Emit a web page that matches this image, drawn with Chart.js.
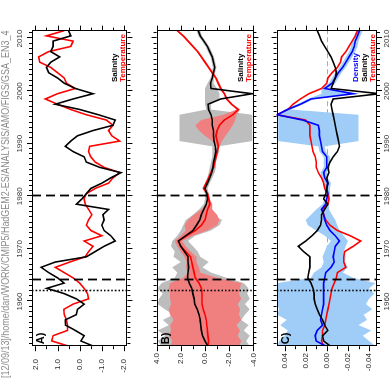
<!DOCTYPE html>
<html><head><meta charset="utf-8">
<script src="https://cdn.jsdelivr.net/npm/chart.js@4"></script>
<style>
html,body{margin:0;padding:0;background:#fff;overflow:hidden;width:391px;height:380px;}
#rot{position:absolute;left:0;top:0;width:380px;height:391px;transform-origin:0 0;transform:translate(0px,380px) rotate(-90deg);background:#fff;}
#rot canvas{position:absolute;left:0;}
</style></head><body>
<div id="rot">
<canvas id="cA" width="380" height="145" style="top:0;width:380px;height:145px"></canvas>
<canvas id="cB" width="380" height="120" style="top:145px;width:380px;height:120px"></canvas>
<canvas id="cC" width="380" height="126" style="top:265px;width:380px;height:126px"></canvas>
</div>
<script>
// ---------- DATA ----------
const pathTitle = "[12/09/13]/home/dan/WORK/CMIP5/HadGEM2-ES/ANALYSIS/AMO/FIGS/GSA_EN3_4";
const years = [1951.5,1952.5,1953.5,1954.5,1955.5,1956.5,1957.5,1958.5,1959.5,1960.5,
1961.5,1962.5,1963.5,1964.5,1965.5,1966.5,1967.5,1968.5,1969.5,1970.5,
1971.5,1972.5,1973.5,1974.5,1975.5,1976.5,1977.5,1978.5,1979.5,1980.5,
1981.5,1982.5,1983.5,1984.5,1985.5,1986.5,1987.5,1988.5,1989.5,1990.5,
1991.5,1992.5,1993.5,1994.5,1995.5,1996.5,1997.5,1998.5,1999.5,2000.5,
2001.5,2002.5,2003.5,2004.5,2005.5,2006.5,2007.5,2008.5,2009.5,2010.5,2011.5];
const yearTicks = [1960,1970,1980,1990,2000,2010];
const eventYears = [1962,1964,1980];

// Panel A: normalised indices
const aSalinity = [-0.62,-0.05,-0.2,0.2,0.64,0.65,0.15,0.1,-0.2,0.15,
0.7,1.48,0.7,1.0,1.4,1.74,1.1,-0.3,-0.7,-1.1,
-1.6,-1.4,-1.1,-1.0,-1.1,-1.05,-1.3,0.15,-0.1,-0.3,
-0.5,-1.0,-1.4,-1.86,-0.9,-0.3,-0.2,0.3,0.65,0.4,
0.1,-0.6,-1.5,-1.6,-0.85,0.0,1.1,0.3,-0.6,0.2,
0.7,1.0,1.4,1.5,1.3,0.9,1.3,1.2,1.2,0.4,0.5];
const aTemperature = [0.49,1.26,1.2,0.55,0.55,0.6,0.7,0.72,0.3,-0.4,
-0.35,-0.2,0.0,0.3,0.7,1.1,0.45,-0.25,-0.4,-0.6,
-0.2,-1.0,-0.5,-0.3,-0.4,-0.55,-0.4,-0.25,-0.2,-0.3,
-0.7,-1.3,-1.5,-1.8,-1.1,-0.7,-0.5,-0.4,-0.45,-1.8,
-1.45,-1.3,-1.5,-1.2,-0.3,0.4,1.0,1.55,1.0,0.2,
0.6,0.7,1.0,1.3,1.8,1.85,1.4,0.4,0.3,1.5,0.7];
const aTicks = [2,1,0,-1,-2];

// Panel B
const bSalinity = [-0.24,0.0,0.2,0.3,0.35,0.4,0.5,0.65,0.85,0.9,
1.0,1.1,1.3,1.45,1.4,1.35,1.4,1.4,1.7,2.0,
2.2,1.6,1.0,0.7,0.44,0.3,0.1,-0.1,-0.2,-0.15,
0.0,-0.2,-0.4,-0.55,-0.65,-0.7,-0.8,-0.9,-0.85,-0.75,
-0.7,-0.7,-0.6,-0.6,-0.5,-0.3,-0.25,-1.3,-3.9,-0.5,
-0.45,-0.6,-0.7,-0.8,-0.7,-0.6,-0.4,-0.2,0.1,0.4,0.56];
const bTemperature = [-0.24,-0.3,-0.24,-0.2,-0.15,-0.1,0.0,0.15,0.25,0.25,
0.25,0.3,0.5,0.8,0.9,1.0,1.1,1.2,1.6,2.0,
2.2,1.5,0.8,0.3,0.0,-0.1,-0.2,-0.4,-0.3,-0.2,
0.1,-0.1,-0.3,-0.5,-0.7,-0.8,-0.9,-1.0,-1.1,-1.0,
-0.9,-1.0,-1.2,-1.6,-2.3,-2.75,-2.2,-1.8,-1.6,-1.3,
-1.1,-0.9,-0.6,-0.3,0.0,0.3,0.6,1.0,1.4,1.8,2.3];
const bSalHi = [3.6,3.9,3.3,3.9,3.0,3.5,2.6,3.3,3.9,3.8,
3.5,3.9,3.6,2.5,2.3,2.7,2.0,2.6,2.5,2.8,
2.7,2.3,2.0,1.8,1.6,1.0,0.5,0.1,0.0,0.0,
0.2,0.0,-0.2,-0.3,-0.4,-0.5,-0.6,-0.6,-0.6,2.1,
2.1,2.1,2.1,2.1,2.1,-0.1,0.0,0.0,0.0,0.0,
-0.2,-0.45,-0.55,-0.65,-0.55,-0.45,-0.25,-0.05,0.25,0.55,0.7];
const bSalLo = [-3.7,-3.4,-3.7,-3.2,-3.6,-3.0,-3.3,-3.7,-3.3,-3.7,
-3.5,-3.6,-3.2,-1.8,-0.5,0.2,-0.3,0.4,0.6,1.0,
1.4,0.8,-0.5,-1.2,-1.4,-0.6,-0.3,-0.4,-0.4,-0.3,
-0.2,-0.4,-0.6,-0.8,-0.9,-0.9,-1.0,-1.2,-1.1,-3.9,
-3.9,-3.9,-3.9,-3.9,-3.9,-0.5,-0.5,-1.2,-1.2,-1.0,
-0.7,-0.75,-0.85,-0.95,-0.85,-0.75,-0.55,-0.35,-0.05,0.25,0.4];
const bTempHi = [2.9,2.7,3.0,2.8,2.9,2.6,2.9,3.0,2.8,2.9,
2.9,3.0,2.9,1.8,1.4,1.6,1.5,1.7,2.0,2.3,
2.5,2.0,1.6,1.7,1.4,0.9,0.3,-0.2,-0.2,-0.1,
0.2,0.0,-0.2,-0.4,-0.6,-0.7,-0.8,-0.9,-1.0,-0.6,
0.0,0.5,0.8,0.3,-1.5,-2.6,-2.1,-1.7,-1.5,-1.2,
-1.0,-0.8,-0.5,-0.2,0.1,0.4,0.7,1.1,1.5,1.9,2.4];
const bTempLo = [-2.8,-3.0,-2.7,-2.9,-2.6,-3.0,-2.8,-2.9,-2.7,-3.0,
-2.8,-2.9,-3.0,-1.0,0.4,0.5,0.7,0.7,1.2,1.6,
1.9,1.0,-0.2,-1.0,-1.2,-1.0,-0.6,-0.6,-0.4,-0.3,
0.0,-0.2,-0.4,-0.6,-0.8,-0.9,-1.0,-1.1,-1.2,-1.4,
-1.7,-2.0,-2.3,-2.5,-2.6,-2.9,-2.3,-1.9,-1.7,-1.4,
-1.2,-1.0,-0.7,-0.4,-0.1,0.2,0.5,0.9,1.3,1.7,2.2];
const bTicks = [4,2,0,-2,-4];

// Panel C
const cDensity = [0.001,0.01,0.011,0.009,0.004,0.006,0.005,0.004,0.003,0.003,
0.003,0.003,0.003,0.002,0.001,-0.004,-0.007,-0.006,-0.007,-0.008,
-0.012,-0.008,-0.003,0.0,0.002,0.003,0.005,0.001,0.0,-0.001,
0.0,-0.001,0.002,0.003,0.0,0.0,0.0,0.004,0.005,0.006,
0.007,0.007,0.008,0.023,0.047,0.037,0.025,0.015,-0.025,0.002,
-0.005,-0.008,-0.011,-0.015,-0.018,-0.021,-0.024,-0.026,-0.027,-0.029,-0.031];
const cSalinity = [-0.0035,0.003,0.004,-0.001,0.002,0.004,0.007,0.009,0.011,0.012,
0.012,0.013,0.015,0.018,0.017,0.016,0.016,0.016,0.022,0.027,
0.02,0.014,0.009,0.006,0.005,0.005,0.002,-0.001,0.003,0.001,
0.0,-0.001,0.0,-0.002,-0.001,-0.003,-0.006,-0.01,-0.012,-0.011,
-0.01,-0.009,-0.008,-0.007,-0.006,-0.005,-0.004,-0.006,-0.05,-0.004,
-0.006,-0.008,-0.009,-0.008,-0.006,-0.004,-0.001,0.002,0.005,0.007,0.009];
const cTemperature = [0.003,0.005,0.004,0.004,0.002,0.001,0.0,-0.001,-0.002,-0.003,
-0.004,-0.005,-0.007,-0.009,-0.01,-0.018,-0.016,-0.016,-0.017,-0.025,
-0.032,-0.022,-0.01,-0.003,0.001,0.003,0.004,-0.001,-0.002,-0.001,
0.002,0.003,0.005,0.008,0.01,0.01,0.011,0.013,0.014,0.015,
0.016,0.016,0.016,0.02,0.047,0.037,0.032,0.025,0.017,0.005,
0.0,-0.001,-0.005,-0.01,-0.013,-0.014,-0.018,-0.021,-0.024,-0.027,-0.029];
const cDenHi = [0.047,0.045,0.040,0.037,0.044,0.038,0.047,0.045,0.047,0.046,
0.047,0.047,0.047,0.015,0.012,0.005,0.003,0.004,0.002,0.0,
-0.004,0.002,0.010,0.018,0.020,0.015,0.010,0.004,0.002,0.001,
0.003,0.002,0.005,0.006,0.003,0.003,0.003,0.007,0.008,0.046,
0.046,0.046,0.046,0.046,0.046,0.040,0.028,0.018,0.005,0.005,
-0.002,-0.005,-0.008,-0.012,-0.015,-0.018,-0.021,-0.023,-0.024,-0.026,-0.028];
const cDenLo = [-0.046,-0.040,-0.034,-0.042,-0.030,-0.038,-0.035,-0.043,-0.037,-0.040,
-0.045,-0.040,-0.046,-0.025,-0.015,-0.020,-0.017,-0.018,-0.016,-0.018,
-0.020,-0.016,-0.012,-0.010,-0.008,-0.005,-0.002,-0.002,-0.003,-0.003,
-0.003,-0.004,-0.001,0.0,-0.003,-0.003,-0.003,0.001,0.002,-0.030,
-0.030,-0.030,-0.030,-0.030,-0.030,0.034,0.022,0.012,-0.030,-0.002,
-0.008,-0.011,-0.014,-0.018,-0.021,-0.024,-0.027,-0.029,-0.030,-0.032,-0.034];
const cTicks = [0.04,0.02,0,-0.02,-0.04];

// ---------- RENDERING ----------
Chart.defaults.font.family = "'Liberation Sans', Arial, Helvetica, sans-serif";
const pts = arr => years.map((yr, i) => ({x: yr, y: arr[i]}));
const RED = '#ff0000', BLUE = '#0000ff', BLACK = '#000000';
const GREY = '#bdbdbd', PINK = '#f08080', LBLUE = '#9fcdf7';

function line(label, arr, color, order) {
  return {label, data: pts(arr), borderColor: color, borderWidth: 1.6, pointRadius: 0, fill: false, order, tension: 0};
}
function band(arr, color, order, fillTo) {
  return {data: pts(arr), borderWidth: 0, borderColor: 'rgba(0,0,0,0)', backgroundColor: color,
          pointRadius: 0, fill: fillTo === undefined ? false : fillTo, order, tension: 0};
}

const deco = {
  id: 'deco',
  beforeDatasetsDraw(chart, args, o) {
    if (!o.zeroLine) return;
    const {ctx, chartArea: a, scales: {y}} = chart;
    const py = Math.round(y.getPixelForValue(0)) + 0.5;
    ctx.save(); ctx.strokeStyle = '#aaaaaa'; ctx.lineWidth = 1; ctx.setLineDash([5, 3]);
    ctx.beginPath(); ctx.moveTo(a.left, py); ctx.lineTo(a.right, py); ctx.stroke(); ctx.restore();
  },
  afterDatasetsDraw(chart, args, o) {
    const {ctx, chartArea: a, scales: {x, y}} = chart;
    ctx.save();
    ctx.strokeStyle = '#000';
    eventYears.forEach((yr, k) => {
      const px = Math.round(x.getPixelForValue(yr)) + 0.5;
      if (k === 0) { ctx.lineWidth = 1.6; ctx.setLineDash([1.6, 2]); }
      else { ctx.lineWidth = 1.8; ctx.setLineDash([9, 5]); }
      ctx.beginPath(); ctx.moveTo(px, a.top); ctx.lineTo(px, a.bottom); ctx.stroke();
    });
    ctx.setLineDash([]);
    ctx.lineWidth = 1;
    ctx.strokeRect(Math.round(a.left) + 0.5, Math.round(a.top) + 0.5, Math.round(a.width) - 1, Math.round(a.height) - 1);
    ctx.beginPath();
    for (let yr = 1952; yr <= 2011; yr++) {
      const px = Math.round(x.getPixelForValue(yr)) + 0.5;
      const len = yr % 10 === 0 ? 5 : 3;
      ctx.moveTo(px, a.top); ctx.lineTo(px, a.top - len);
      ctx.moveTo(px, a.bottom); ctx.lineTo(px, a.bottom + len);
    }
    const n = Math.round((y.max - y.min) / o.minorStep) + 2;
    const start = Math.ceil(y.min / o.minorStep) * o.minorStep;
    for (let k = 0; k < n; k++) {
      const v = start + k * o.minorStep;
      if (v > y.max + 1e-9) break;
      const py = Math.round(y.getPixelForValue(v)) + 0.5;
      const major = Math.abs(v / o.majorStep - Math.round(v / o.majorStep)) < 1e-6;
      const len = major ? 5 : 3;
      ctx.moveTo(a.left, py); ctx.lineTo(a.left - len, py);
      ctx.moveTo(a.right, py); ctx.lineTo(a.right + len, py);
    }
    ctx.stroke();
    ctx.fillStyle = '#000';
    ctx.font = "bold 11px 'Liberation Sans', Arial, sans-serif";
    ctx.textBaseline = 'alphabetic';
    ctx.fillText(o.letter, a.left + 2, a.top + 12);
    ctx.font = "bold 8px 'Liberation Sans', Arial, sans-serif";
    o.legend.forEach((item, k) => {
      ctx.fillStyle = item.color;
      ctx.fillText(item.text, 298, a.bottom - 2 - (o.legend.length - 1 - k) * 8.5);
    });
    ctx.restore();
  }
};

const tickFont = {size: 8};
function yScale(min, max, ticksArr, digits, pad) {
  return {
    type: 'linear', min, max,
    afterBuildTicks: s => { s.ticks = ticksArr.map(v => ({value: v})); },
    afterFit: s => { s.width = 31.8; },
    grid: {display: false, drawTicks: false}, border: {display: false},
    ticks: {font: tickFont, color: '#222', padding: pad, callback: v => Number(v).toFixed(digits)}
  };
}
function xScale(position, display, height, pad) {
  return {
    type: 'linear', position, display, min: 1951.5, max: 2011.5,
    afterBuildTicks: s => { s.ticks = yearTicks.map(v => ({value: v})); },
    afterFit: s => { s.height = height; },
    grid: {display: false, drawTicks: false}, border: {display: false},
    ticks: {font: tickFont, color: '#333', padding: pad, autoSkip: false, maxRotation: 0, callback: v => String(v)}
  };
}
function baseOpts(padding, x, y, deco, title) {
  return {
    responsive: false, animation: false, devicePixelRatio: 1, events: [],
    layout: {padding},
    plugins: {legend: {display: false}, tooltip: {enabled: false}, deco,
      title: title || {display: false}},
    scales: {x, y}
  };
}

new Chart(document.getElementById('cA'), {
  type: 'line',
  data: {datasets: [
    line('Salinity', aSalinity, BLACK, 1),
    line('Temperature', aTemperature, RED, 2)
  ]},
  options: baseOpts({left: 2, right: 30.6, top: 0, bottom: 10},
    xScale('top', true, 21, 7), yScale(-2.15, 2.15, aTicks, 1, 12.8),
    {letter: 'A)', minorStep: 0.5, majorStep: 1, legend: [{text: 'Salinity', color: BLACK}, {text: 'Temperature', color: RED}]},
    {display: true, text: pathTitle, align: 'start', color: '#8c8c8c', font: {size: 10, lineHeight: 1, weight: 'normal'}, padding: {top: 1, bottom: 0}}),
  plugins: [deco]
});

new Chart(document.getElementById('cB'), {
  type: 'line',
  data: {datasets: [
    line('Salinity', bSalinity, BLACK, 1),
    line('Temperature', bTemperature, RED, 2),
    band(bSalLo, GREY, 10),
    band(bSalHi, GREY, 9, 2),
    band(bTempLo, PINK, 8),
    band(bTempHi, PINK, 7, 4)
  ]},
  options: baseOpts({left: 2, right: 30.6, top: 7, bottom: 8},
    xScale('bottom', false, 0, 0), yScale(-4, 4, bTicks, 1, 6.8),
    {letter: 'B)', minorStep: 1, majorStep: 2, legend: [{text: 'Salinity', color: BLACK}, {text: 'Temperature', color: RED}]}),
  plugins: [deco]
});

new Chart(document.getElementById('cC'), {
  type: 'line',
  data: {datasets: [
    line('Salinity', cSalinity, BLACK, 1),
    line('Density', cDensity, BLUE, 2),
    line('Temperature', cTemperature, RED, 3),
    band(cDenLo, LBLUE, 10),
    band(cDenHi, LBLUE, 9, 3)
  ]},
  options: baseOpts({left: 2, right: 30.6, top: 7, bottom: 0},
    xScale('bottom', true, 14, 5), yScale(-0.0475, 0.0475, cTicks, 2, 6.8),
    {letter: 'C)', minorStep: 0.01, majorStep: 0.02, zeroLine: true,
     legend: [{text: 'Density', color: BLUE}, {text: 'Salinity', color: BLACK}, {text: 'Temperature', color: RED}]}),
  plugins: [deco]
});
</script>
</body></html>
